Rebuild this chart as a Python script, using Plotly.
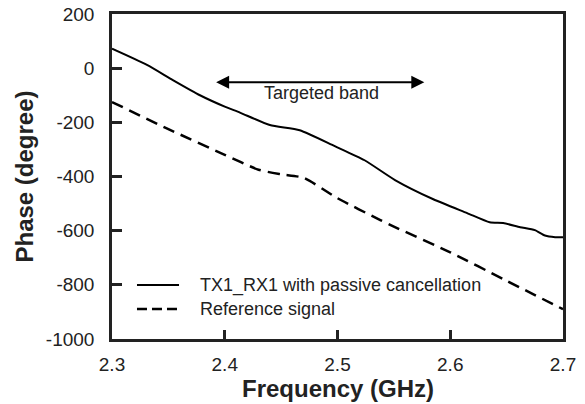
import plotly.graph_objects as go

freq_solid = [2.30, 2.331, 2.354, 2.378, 2.40, 2.4135, 2.44, 2.4665, 2.4976, 2.524, 2.551, 2.585, 2.615, 2.635, 2.647, 2.662, 2.675, 2.684, 2.693, 2.70]
phase_solid = [72, 12, -44, -100, -142, -164, -210, -229, -288, -340, -413, -484, -535, -569, -572, -587, -598, -618, -624, -624]

freq_ref = [2.30, 2.35, 2.40, 2.43, 2.45, 2.47, 2.50, 2.538, 2.55, 2.60, 2.649, 2.70]
phase_ref = [-125, -225, -320, -375, -392, -405, -480, -561, -585, -680, -783, -890]

x_ticks = [2.3, 2.4, 2.5, 2.6, 2.7]
y_ticks = [-1000, -800, -600, -400, -200, 0, 200]

series_names = ["TX1_RX1 with passive cancellation", "Reference signal"]

FONT = "Liberation Sans, Arial"

fig = go.Figure()
fig.add_trace(go.Scatter(x=freq_solid, y=phase_solid, mode="lines", name=series_names[0],
                         line=dict(color="black", width=2, shape="spline", smoothing=0.6)))
fig.add_trace(go.Scatter(x=freq_ref, y=phase_ref, mode="lines", name=series_names[1],
                         line=dict(color="black", width=2.5, dash="12px,7px", shape="spline", smoothing=0.6)))

# arrow marking targeted band
fig.add_annotation(x=2.577, y=-52, ax=2.391, ay=-52, xref="x", yref="y", axref="x", ayref="y",
                   text="", showarrow=True, arrowhead=2, arrowside="end+start", arrowsize=1.3,
                   arrowwidth=2, arrowcolor="black")
fig.add_annotation(x=2.486, y=-92, xref="x", yref="y", text="Targeted band", showarrow=False,
                   font=dict(family=FONT, size=18, color="#222"))

# manual legend
leg_rows = [0.166, 0.092]
leg_dash = ["solid", "10px,5px"]
leg_w = [2, 2.5]
for name, yy, dsh, w in zip(series_names, leg_rows, leg_dash, leg_w):
    fig.add_shape(type="line", xref="paper", yref="paper", x0=0.0554, x1=0.1486, y0=yy, y1=yy,
                  line=dict(color="black", width=w, dash=dsh))
    fig.add_annotation(x=0.1907, y=yy, xref="paper", yref="paper", text=name, showarrow=False,
                       xanchor="left", yanchor="middle", font=dict(family=FONT, size=18, color="#222"))

# axis titles
fig.add_annotation(x=0.5, y=-0.1538, xref="paper", yref="paper", text="<b>Frequency (GHz)</b>",
                   showarrow=False, xanchor="center", yanchor="middle",
                   font=dict(family=FONT, size=24, color="#222"))
fig.add_annotation(x=-0.1951, y=0.5, xref="paper", yref="paper", text="<b>Phase (degree)</b>",
                   showarrow=False, xanchor="center", yanchor="middle", textangle=-90,
                   font=dict(family=FONT, size=24, color="#222"))

axis_common = dict(showline=True, linecolor="#222", linewidth=2.5, mirror=True, ticks="inside",
                   tickwidth=2.5, tickcolor="#222", showgrid=False, zeroline=False, automargin=False,
                   tickfont=dict(family=FONT, size=19, color="#222"))

fig.update_layout(
    width=585, height=404,
    margin=dict(l=112, r=22, t=14, b=65),
    paper_bgcolor="white", plot_bgcolor="white",
    xaxis=dict(range=[2.3, 2.7], tickvals=x_ticks, ticktext=[str(v) for v in x_ticks], ticklen=9,
               ticklabelstandoff=6, **axis_common),
    yaxis=dict(range=[-1000, 200], tickvals=y_ticks, ticktext=[str(v) for v in y_ticks], ticklen=10,
               ticklabelstandoff=11, **axis_common),
    showlegend=False,
)

fig.write_html("out.html")
